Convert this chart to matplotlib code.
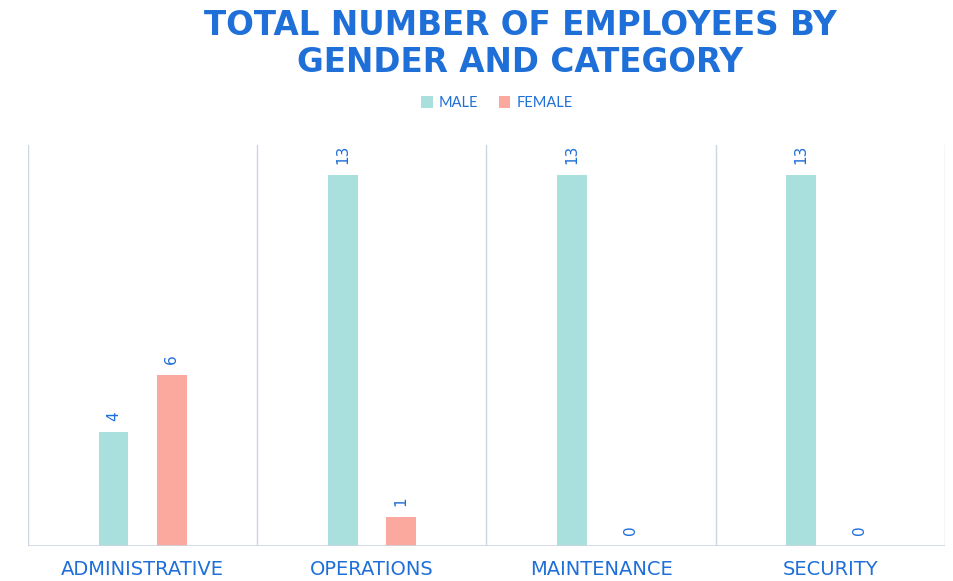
import matplotlib
matplotlib.use("Agg")
import matplotlib.pyplot as plt
import numpy as np

categories = ["ADMINISTRATIVE", "OPERATIONS", "MAINTENANCE", "SECURITY"]
male = [4, 13, 13, 13]
female = [6, 1, 0, 0]
series_names = ["MALE", "FEMALE"]

male_color = "#a9e0dd"
female_color = "#fba99f"
text_blue = "#1f6fd8"
line_color = "#cdd5e3"

plt.rcParams['font.family'] = ['Lato', 'DejaVu Sans']

fig = plt.figure(figsize=(9.54, 5.81), dpi=100)
ax = fig.add_axes([28/954, 35/581, (945-28)/954, (546-145)/581])

x = np.arange(len(categories))
w = 0.13
off = 0.127
b1 = ax.bar(x - off, male, width=w, color=male_color, label=series_names[0])
b2 = ax.bar(x + off, female, width=w, color=female_color, label=series_names[1])

for bars, vals in ((b1, male), (b2, female)):
    for rect, v in zip(bars, vals):
        ax.annotate(str(v), (rect.get_x() + rect.get_width()/2, v),
                    xytext=(0, 8), textcoords="offset points",
                    ha="center", va="bottom", rotation=90,
                    color=text_blue, fontsize=11, family=['DejaVu Sans'])

ax.set_xlim(-0.5, len(categories) - 0.5)
ax.set_ylim(0, 14.07)
for b in np.arange(-0.5, len(categories), 1.0):
    ax.axvline(b, color=line_color, lw=1.0, zorder=0)
for s in ax.spines.values():
    s.set_visible(False)
ax.axhline(0, color=line_color, lw=1.2, zorder=3)
ax.set_yticks([])
ax.set_xticks(x)
ax.set_xticklabels(categories, fontsize=14, color=text_blue, family=['DejaVu Sans'])
ax.tick_params(axis='x', length=0, pad=10)

fig.text(520/954, 1 - 44/581, "TOTAL NUMBER OF EMPLOYEES BY\nGENDER AND CATEGORY",
         ha="center", va="center", fontsize=23.5, fontweight="bold",
         color=text_blue, linespacing=1.12, family=['DejaVu Sans'])

leg = fig.legend(handles=[b1, b2], labels=series_names, loc="center",
                 bbox_to_anchor=(497/954, 1 - 103/581), ncol=2, frameon=False,
                 fontsize=10.5, handlelength=0.8, handleheight=0.8,
                 handletextpad=0.4, columnspacing=1.4)
for t in leg.get_texts():
    t.set_color(text_blue)

fig.savefig("out.png", dpi=100)
